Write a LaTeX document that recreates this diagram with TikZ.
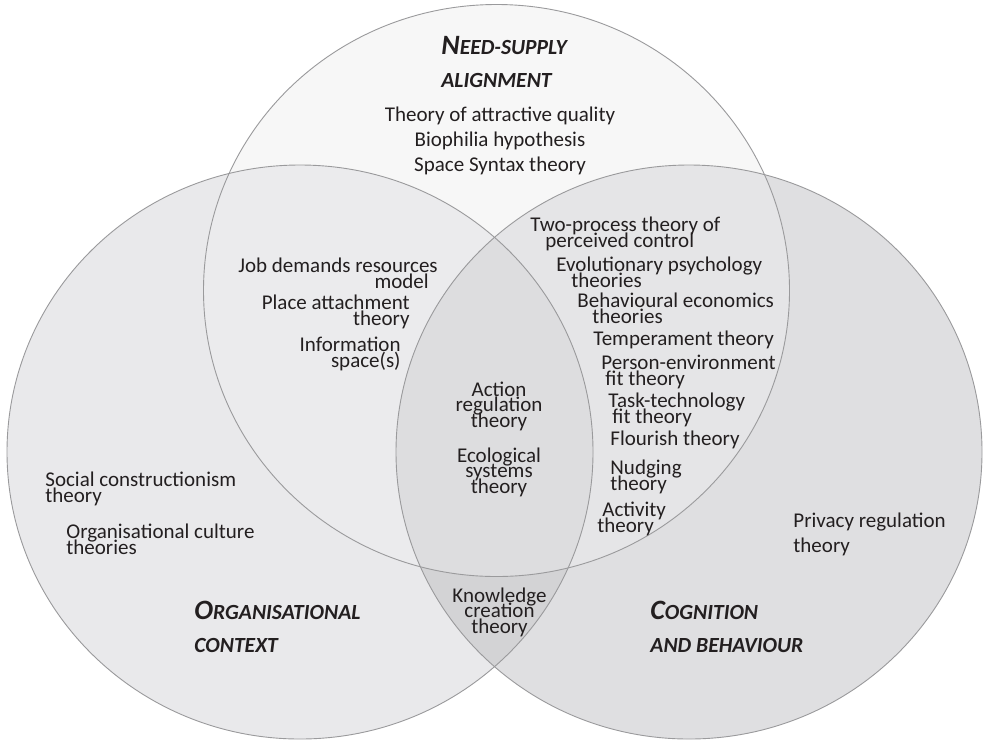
\documentclass[tikz,border=0pt]{standalone}
\usepackage{fontspec}
\setmainfont{Carlito}
\usepackage{tikz}
\usetikzlibrary{positioning}
\definecolor{ink}{HTML}{231F20}
\definecolor{rim}{HTML}{9A9A9C}
\definecolor{fillT}{HTML}{F7F7F7}
\definecolor{fillL}{HTML}{E9E9EB}
\definecolor{fillR}{HTML}{DFDFE1}
\definecolor{fillTL}{HTML}{EBEBED}
\definecolor{fillTR}{HTML}{E5E5E7}
\definecolor{fillLR}{HTML}{D3D3D5}
\definecolor{fillC}{HTML}{DDDDDF}
\newcommand{\domcap}[2]{{\fontsize{14}{16.5}\selectfont #1}#2}
\tikzset{%
	theory/.style = {inner sep=0pt, text=ink, font=\fontsize{10.5}{7.6}\selectfont},
	wide/.style   = {theory, font=\fontsize{10.5}{12.5}\selectfont},
	realm/.style  = {inner sep=0pt, text=ink, align=left, font=\bfseries\itshape\fontsize{10.8}{16.5}\selectfont},
	venn/.style   = {draw=rim, line width=0.45pt},
}

\begin{document}
\setlength{\lineskiplimit}{-100pt}
\begin{tikzpicture}[x=0.5pt,y=-0.5pt]
	\fill[white] (0,0) rectangle (983,740);
	\useasboundingbox (0,0) rectangle (983,740);
	\coordinate (ctop) at (496.5,290.5);
	\coordinate (cleft) at (300,452);
	\coordinate (cright) at (689,452);
	\def\ringtop{(ctop) ellipse [x radius=293, y radius=286]}
	\def\ringlft{(cleft) ellipse [x radius=293, y radius=287]}
	\def\ringrgt{(cright) ellipse [x radius=293, y radius=287]}
	
	\fill[fillL] \ringlft;
	\fill[fillR] \ringrgt;
	\fill[fillT] \ringtop;
	\begin{scope}
		\clip \ringtop;
		\fill[fillTL] \ringlft;
		\fill[fillTR] \ringrgt;
	\end{scope}
	\begin{scope}
		\clip \ringlft;
		\fill[fillLR] \ringrgt;
	\end{scope}
	\begin{scope}
		\clip \ringtop;
		\clip \ringlft;
		\fill[fillC] \ringrgt;
	\end{scope}
	\draw[venn] \ringtop;
	\draw[venn] \ringlft;
	\draw[venn] \ringrgt;
	
	% domains
	\node[realm,anchor=base west] (need) at (441,87) {\domcap{N}{EED-SUPPLY}\\ALIGNMENT};
	\node[realm,anchor=base west] (org) at (194,652) {\domcap{O}{RGANISATIONAL}\\CONTEXT};
	\node[realm,anchor=base west] (cog) at (650,652) {\domcap{C}{OGNITION}\\AND BEHAVIOUR};
	
	% need-supply alignment
	\node[wide,align=center,anchor=base] (attract) at (500,171) {Theory of attractive quality\\Biophilia hypothesis\\Space Syntax theory};
	
	% need-supply and organisational context
	\node[theory,align=right,anchor=base west] (jobdem) at (238,288) {Job demands resources\\model\hspace*{4.5pt}};
	\node[theory,align=right,anchor=base east] (placeatt) at (410,325) {Place attachment\\theory};
	\node[theory,align=right,anchor=base east] (infosp) at (401,367) {Information\\space(s)};
	
	% need-supply and cognition
	\node[theory,align=left,anchor=base west] (twoproc) at (530,247) {Two-process theory of\\\hspace*{7.5pt}perceived control};
	\node[theory,align=left,anchor=base west] (evol) at (556,287) {Evolutionary psychology\\\hspace*{7.5pt}theories};
	\node[theory,align=left,anchor=base west] (behav) at (577,323) {Behavioural economics\\\hspace*{7.5pt}theories};
	\node[theory,anchor=base west] (temper) at (593,345) {Temperament theory};
	\node[theory,align=left,anchor=base west] (persenv) at (601,385) {Person-environment\\\hspace*{2pt}fit theory};
	\node[theory,align=left,anchor=base west] (tasktech) at (608,423) {Task-technology\\\hspace*{2pt}fit theory};
	\node[theory,anchor=base west] (flourish) at (610,445) {Flourish theory};
	\node[theory,align=left,anchor=base west] (nudging) at (610,490) {Nudging\\theory};
	\node[theory,align=left,anchor=base west] (activity) at (597,532) {\hspace*{2.5pt}Activity\\theory};
	
	% all three
	\node[theory,align=center,anchor=base] (action) at (499,427) {Action\\regulation\\theory};
	\node[theory,align=center,anchor=base] (ecol) at (499,493) {Ecological\\systems\\theory};
	
	% organisational context and cognition
	\node[theory,align=center,anchor=base] (knowledge) at (499.5,633) {Knowledge\\creation\\theory};
	
	% single domains
	\node[theory,align=left,anchor=base west] (social) at (45,502) {Social constructionism\\theory};
	\node[theory,align=left,anchor=base west] (orgcult) at (66,554) {Organisational culture\\theories};
	\node[wide,align=left,anchor=base west] (privacy) at (793,552) {Privacy regulation\\theory};
\end{tikzpicture}
\end{document}
